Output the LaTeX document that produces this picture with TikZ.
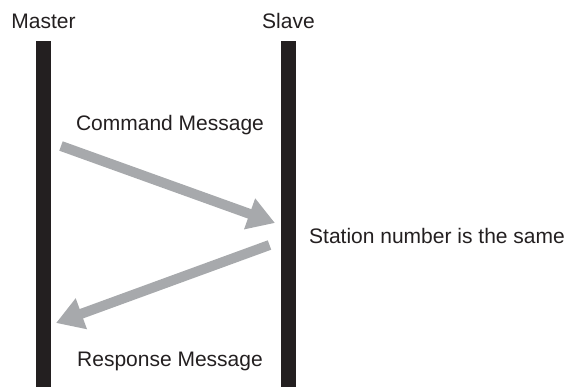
\documentclass[tikz,border=0pt]{standalone}
\usepackage{fontspec}
\setmainfont{Liberation Sans}
\usetikzlibrary{arrows.meta}
\definecolor{barblack}{HTML}{231F20}
\definecolor{arrowgray}{HTML}{A7A9AC}

\begin{document}
\begin{tikzpicture}[x=1bp, y=-1bp,
		lifeline/.style={fill=barblack, draw=none, minimum width=15bp, minimum height=346bp, inner sep=0pt},
		label/.style={text=barblack, font=\fontsize{21bp}{25bp}\selectfont, inner sep=0pt},
		message/.style={draw=arrowgray, line width=10bp, -{Triangle[length=27bp, width=31bp]}}]
		%%%%% START %%%%%
		
		\useasboundingbox (0, 0) rectangle (568, 387);
		
		\node[lifeline] (master) at (43.5, 214) {};
		\node[lifeline] (slave) at (288.5, 214) {};
		
		\node[label, anchor=base] (mastername) at (43.5, 28) {Master};
		\node[label, anchor=base] (slavename) at (288.5, 28) {Slave};
		
		\coordinate (cmdtail) at (61, 146);
		\coordinate (cmdtip) at (275, 223);
		\coordinate (resptail) at (269.5, 245);
		\coordinate (resptip) at (56, 323);
		
		\draw[message] (cmdtail) -- (cmdtip);
		\draw[message] (resptail) -- (resptip);
		
		\node[label, anchor=base] (cmdtext) at (170, 130) {Command Message};
		\node[label, anchor=base] (resptext) at (170, 366) {Response Message};
		\node[label, anchor=base west] (station) at (309, 243) {Station number is the same};
		
		%%%%% END %%%%%
\end{tikzpicture}
\end{document}
